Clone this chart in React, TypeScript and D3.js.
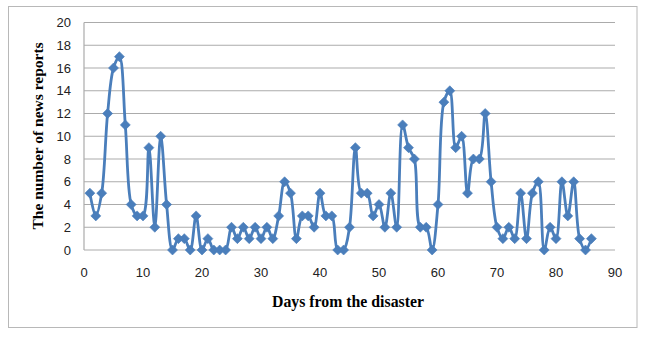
import React from "react";
import * as d3 from "d3";

const days: number[] = Array.from({ length: 86 }, (_, i) => i + 1);
const reports: number[] = [
  5, 3, 5, 12, 16, 17, 11, 4, 3, 3,
  9, 2, 10, 4, 0, 1, 1, 0, 3, 0,
  1, 0, 0, 0, 2, 1, 2, 1, 2, 1,
  2, 1, 3, 6, 5, 1, 3, 3, 2, 5,
  3, 3, 0, 0, 2, 9, 5, 5, 3, 4,
  2, 5, 2, 11, 9, 8, 2, 2, 0, 4,
  13, 14, 9, 10, 5, 8, 8, 12, 6, 2,
  1, 2, 1, 5, 1, 5, 6, 0, 2, 1,
  6, 3, 6, 1, 0, 1,
];
const xTicks: number[] = [0, 10, 20, 30, 40, 50, 60, 70, 80, 90];
const yTicks: number[] = [0, 2, 4, 6, 8, 10, 12, 14, 16, 18, 20];
const xTitle = "Days from the disaster";
const yTitle = "The number of news reports";

export default function App() {
  const W = 650, H = 340;
  const x = d3.scaleLinear().domain([0, 90]).range([84, 615]);
  const y = d3.scaleLinear().domain([0, 20]).range([250, 22.5]);
  const data = days.map((d, i) => [d, reports[i]] as [number, number]);
  const line = d3
    .line<[number, number]>()
    .x((d) => x(d[0]))
    .y((d) => y(d[1]))
    .curve(d3.curveCatmullRom.alpha(0.5));
  const diamond = (cx: number, cy: number) => {
    const r = 5;
    return `M${cx},${cy - r}L${cx + r},${cy}L${cx},${cy + r}L${cx - r},${cy}Z`;
  };
  const blue = "#4A7EBB";
  return (
    <svg
      width={W}
      height={H}
      style={{ position: "absolute", left: 0, top: 0, background: "#fff" }}
    >
      <rect x={8.5} y={6.5} width={628.5} height={321} fill="#fff" stroke="#b8b8b8" strokeWidth={1} />
      {yTicks.map((t) => (
        <line key={"g" + t} x1={x(0)} x2={x(90)} y1={y(t)} y2={y(t)} stroke="#ababab" strokeWidth={1.2} />
      ))}
      <line x1={x(0)} x2={x(0)} y1={y(0)} y2={y(20)} stroke="#ababab" strokeWidth={1.2} />
      {yTicks.map((t) => (
        <text
          key={"yt" + t}
          x={71}
          y={y(t)}
          textAnchor="end"
          dominantBaseline="central"
          fontFamily="'Liberation Sans', Arial, sans-serif"
          fontSize={13}
          fill="#222"
        >
          {t}
        </text>
      ))}
      {xTicks.map((t) => (
        <text
          key={"xt" + t}
          x={x(t)}
          y={272}
          textAnchor="middle"
          dominantBaseline="central"
          fontFamily="'Liberation Sans', Arial, sans-serif"
          fontSize={13}
          fill="#222"
        >
          {t}
        </text>
      ))}
      <path d={line(data) || ""} fill="none" stroke={blue} strokeWidth={2.8} strokeLinejoin="round" />
      {data.map((d, i) => (
        <path key={"m" + i} d={diamond(x(d[0]), y(d[1]))} fill={blue} stroke={blue} strokeWidth={0.6} />
      ))}
      <text
        x={348}
        y={301}
        textAnchor="middle"
        dominantBaseline="central"
        fontFamily="'Liberation Serif', 'Times New Roman', serif"
        fontWeight="bold"
        fontSize={15.8}
        fill="#000"
      >
        {xTitle}
      </text>
      <text
        transform={`translate(37,136) rotate(-90)`}
        textAnchor="middle"
        dominantBaseline="central"
        fontFamily="'Liberation Serif', 'Times New Roman', serif"
        fontWeight="bold"
        fontSize={15.5}
        fill="#000"
      >
        {yTitle}
      </text>
    </svg>
  );
}
